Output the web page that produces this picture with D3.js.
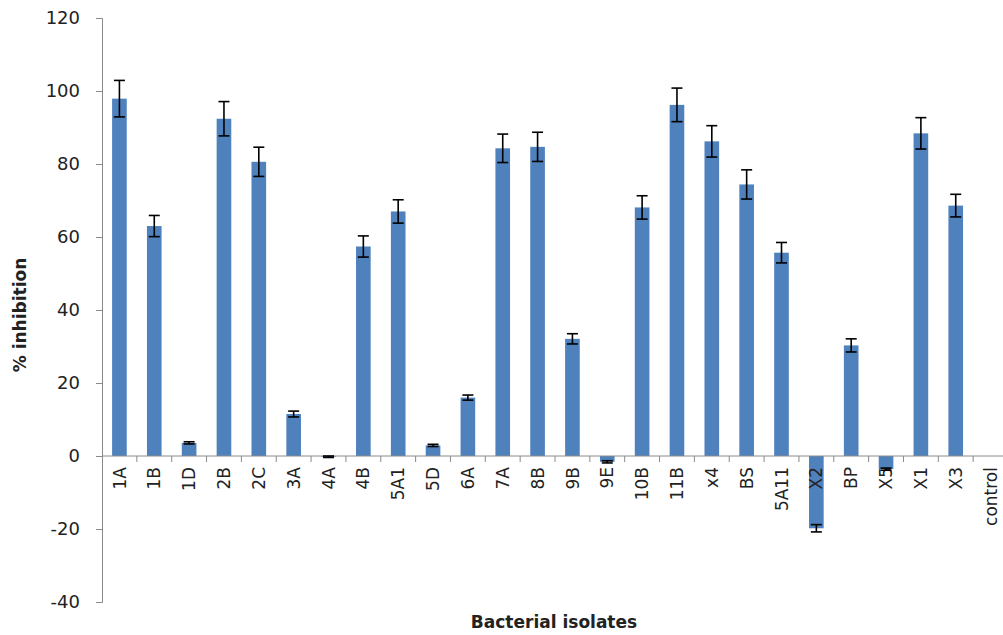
<!DOCTYPE html>
<html>
<head>
<meta charset="utf-8">
<script src="https://cdn.jsdelivr.net/npm/d3@7"></script>
<style>
  html, body { margin: 0; padding: 0; background: #fff; }
  svg { display: block; }
  text { font-family: "DejaVu Sans", sans-serif; fill: #222; }
</style>
</head>
<body>
<svg id="chart" width="1003" height="635"></svg>
<script>
const categories = ["1A","1B","1D","2B","2C","3A","4A","4B","5A1","5D","6A","7A","8B","9B","9E","10B","11B","x4","BS","5A11","X2","BP","X5","X1","X3","control"];
const values = [97.9,63.0,3.6,92.4,80.6,11.5,-0.2,57.4,67.0,2.9,16.0,84.3,84.7,32.1,-1.6,68.1,96.2,86.2,74.4,55.7,-19.8,30.3,-3.6,88.4,68.6,0];
const errors = [5.0,2.9,0.3,4.7,4.0,0.8,0.2,2.9,3.2,0.3,0.7,3.9,4.0,1.4,0.3,3.2,4.6,4.3,4.0,2.8,1.0,1.8,0.3,4.3,3.1,0];
const yTicks = [-40,-20,0,20,40,60,80,100,120];
const yTitle = "% inhibition";
const xTitle = "Bacterial isolates";

const svg = d3.select("#chart");
const mLeft = 102, mRight = 1008, mTop = 18, mBottom = 602;

const x = d3.scaleBand().domain(categories).range([mLeft, mRight]).paddingInner(0.58).paddingOuter(0.29);
const y = d3.scaleLinear().domain([-40, 120]).range([mBottom, mTop]);

const axisColor = "#8a8a8a";

// Y axis
const yAxis = svg.append("g").attr("transform", `translate(${mLeft},0)`)
  .call(d3.axisLeft(y).tickValues(yTicks).tickSize(6).tickPadding(16).tickFormat(d => String(d)));
yAxis.select(".domain").attr("stroke", axisColor);
yAxis.selectAll(".tick line").attr("stroke", axisColor);
yAxis.selectAll(".tick text").attr("font-size", 18).attr("font-family", "DejaVu Sans").attr("fill", "#222");

// bars
const data = categories.map((c, i) => ({c, v: values[i], e: errors[i]}));
svg.append("g").selectAll("rect").data(data).join("rect")
  .attr("x", d => x(d.c))
  .attr("width", x.bandwidth())
  .attr("y", d => y(Math.max(0, d.v)))
  .attr("height", d => Math.abs(y(d.v) - y(0)))
  .attr("fill", "#4f81bd");

// X axis (at zero)
const step = x.step();
const xg = svg.append("g");
xg.append("line").attr("x1", mLeft).attr("x2", mRight).attr("y1", y(0)).attr("y2", y(0)).attr("stroke", axisColor);
xg.selectAll("line.tk").data(d3.range(1, categories.length + 1)).join("line")
  .attr("class", "tk")
  .attr("x1", k => mLeft + k * step).attr("x2", k => mLeft + k * step)
  .attr("y1", y(0)).attr("y2", y(0) + 6).attr("stroke", axisColor);
xg.selectAll("text").data(categories).join("text")
  .attr("transform", d => `translate(${x(d) + x.bandwidth() / 2},${y(0) + 11}) rotate(-90)`)
  .attr("text-anchor", "end")
  .attr("dy", "0.36em")
  .attr("font-size", 17)
  .text(d => d);

// error bars
const eg = svg.append("g").attr("stroke", "#000").attr("stroke-width", 1.6);
const cap = 5.5;
data.filter(d => d.c !== "control").forEach(d => {
  const cx = x(d.c) + x.bandwidth() / 2;
  eg.append("line").attr("x1", cx).attr("x2", cx).attr("y1", y(d.v + d.e)).attr("y2", y(d.v - d.e));
  eg.append("line").attr("x1", cx - cap).attr("x2", cx + cap).attr("y1", y(d.v + d.e)).attr("y2", y(d.v + d.e));
  eg.append("line").attr("x1", cx - cap).attr("x2", cx + cap).attr("y1", y(d.v - d.e)).attr("y2", y(d.v - d.e));
});

// titles
svg.append("text")
  .attr("transform", `translate(26,${(mTop + mBottom) / 2 + 5}) rotate(-90)`)
  .attr("text-anchor", "middle")
  .attr("font-size", 17).attr("font-weight", "bold")
  .text(yTitle);
svg.append("text")
  .attr("x", 554).attr("y", 628)
  .attr("text-anchor", "middle")
  .attr("font-size", 17).attr("font-weight", "bold")
  .text(xTitle);
</script>
</body>
</html>
